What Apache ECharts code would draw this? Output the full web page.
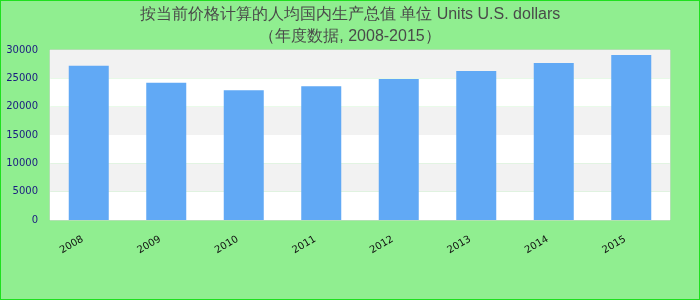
<!DOCTYPE html>
<html>
<head>
<meta charset="utf-8">
<script src="https://cdn.jsdelivr.net/npm/echarts@6/dist/echarts.min.js"></script>
<style>
html,body{margin:0;padding:0;background:#90ee90;}
#wrap{position:relative;width:700px;height:300px;}
#chart{position:absolute;left:0;top:0;width:700px;height:300px;}
#frame{position:absolute;left:0;top:0;width:700px;height:300px;box-sizing:border-box;border:1px solid #1ee01e;pointer-events:none;}
</style>
</head>
<body>
<div id="wrap"><div id="chart"></div><div id="frame"></div></div>
<script>
var titleLine1 = "按当前价格计算的人均国内生产总值 单位 Units U.S. dollars";
var titleLine2 = "（年度数据, 2008-2015）";
var categories = ["2008", "2009", "2010", "2011", "2012", "2013", "2014", "2015"];
var values = [27200, 24200, 22900, 23600, 24900, 26300, 27700, 29100];
var yTicks = [0, 5000, 10000, 15000, 20000, 25000, 30000];

var chart = echarts.init(document.getElementById('chart'), null, {renderer: 'canvas'});
chart.setOption({
  backgroundColor: '#90ee90',
  animation: false,
  title: {
    text: titleLine1 + "\n" + titleLine2,
    left: 'center',
    top: -1,
    textStyle: {
      fontFamily: 'Liberation Sans, Arial, sans-serif',
      fontSize: 16,
      fontWeight: 'normal',
      color: '#4a4a4a',
      lineHeight: 22
    }
  },
  grid: {left: 50, right: 30, top: 50, bottom: 80, show: true, borderColor: '#d3d3d3', borderWidth: 1, backgroundColor: 'transparent'},
  xAxis: {
    type: 'category',
    data: categories,
    axisLine: {show: false},
    axisTick: {show: false},
    axisLabel: {
      rotate: 30,
      margin: 15,
      padding: [0, 7, 0, 0],
      fontFamily: 'DejaVu Sans, sans-serif',
      fontSize: 10,
      color: '#111'
    }
  },
  yAxis: {
    type: 'value',
    min: yTicks[0],
    max: yTicks[yTicks.length - 1],
    interval: 5000,
    axisLine: {show: false},
    axisTick: {show: false},
    splitLine: {show: false},
    splitArea: {show: true, areaStyle: {color: ['#ffffff', '#f2f2f2']}},
    axisLabel: {
      margin: 12,
      fontFamily: 'DejaVu Sans, sans-serif',
      fontSize: 10,
      color: '#1a1a80',
      formatter: function (v) { return String(v); }
    }
  },
  series: [{
    type: 'bar',
    data: values,
    barWidth: 40,
    itemStyle: {color: '#61a9f5'}
  }]
});
</script>
</body>
</html>
